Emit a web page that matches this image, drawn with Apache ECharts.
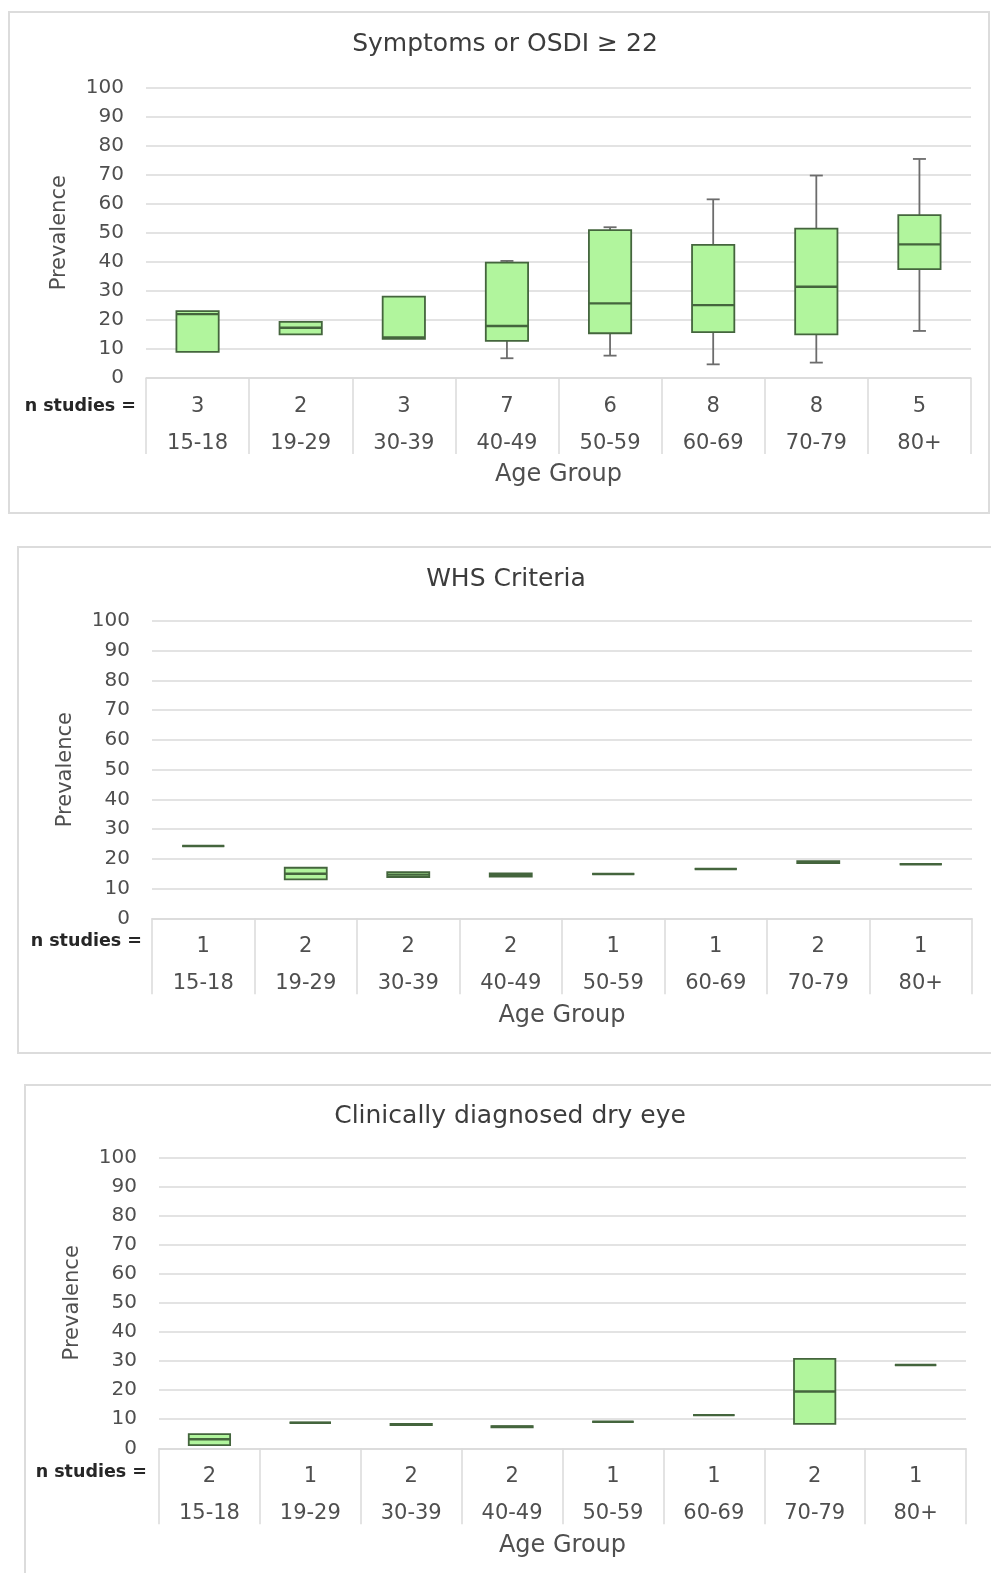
<!DOCTYPE html>
<html>
<head>
<meta charset="utf-8">
<script src="https://cdn.jsdelivr.net/npm/echarts@6/dist/echarts.min.js"></script>
<style>
  html, body { margin: 0; padding: 0; background: #ffffff; }
  #chart { width: 991px; height: 1573px; }
</style>
</head>
<body>
<div id="chart"></div>
<script>
// Age groups shared by the three panels
const ageGroups = ['15-18', '19-29', '30-39', '40-49', '50-59', '60-69', '70-79', '80+'];

// Panel titles
const panelTitles = ['Symptoms or OSDI \u2265 22', 'WHS Criteria', 'Clinically diagnosed dry eye'];

// Number of studies per age group
const osdiStudies = [3, 2, 3, 7, 6, 8, 8, 5];
const whsStudies = [1, 2, 2, 2, 1, 1, 2, 1];
const clinicalStudies = [2, 1, 2, 2, 1, 1, 2, 1];

// Prevalence (%) per age group: [min, Q1, median, Q3, max]
const osdiPrevalence = [
  [9.0, 9.0, 22.0, 23.0, 23.0],
  [15.0, 15.0, 17.3, 19.3, 19.3],
  [13.5, 13.5, 14.0, 28.0, 28.0],
  [6.8, 12.8, 17.9, 39.7, 40.3],
  [7.7, 15.4, 25.7, 50.9, 51.9],
  [4.7, 15.8, 25.1, 45.8, 61.5],
  [5.3, 15.0, 31.4, 51.4, 69.7],
  [16.2, 37.5, 46.0, 56.1, 75.4]
];
const whsPrevalence = [
  [24.3, 24.3, 24.3, 24.3, 24.3],
  [13.1, 13.1, 15.0, 17.0, 17.0],
  [13.9, 13.9, 14.7, 15.5, 15.5],
  [14.0, 14.0, 14.5, 15.1, 15.1],
  [14.9, 14.9, 14.9, 14.9, 14.9],
  [16.6, 16.6, 16.6, 16.6, 16.6],
  [18.6, 18.6, 18.9, 19.2, 19.2],
  [18.2, 18.2, 18.2, 18.2, 18.2]
];
const clinicalPrevalence = [
  [1.1, 1.1, 3.1, 4.9, 4.9],
  [8.8, 8.8, 8.8, 8.8, 8.8],
  [8.0, 8.0, 8.2, 8.4, 8.4],
  [7.2, 7.2, 7.4, 7.6, 7.6],
  [9.1, 9.1, 9.1, 9.1, 9.1],
  [11.4, 11.4, 11.4, 11.4, 11.4],
  [8.4, 8.4, 19.5, 30.7, 30.7],
  [28.6, 28.6, 28.6, 28.6, 28.6]
];

const FONT = 'DejaVu Sans';
const TEXT = '#4f4f4f';
const GRID_LINE = '#dadada';
const BOX_FILL = '#b1f59d';
const BOX_EDGE = '#44653d';
const WHISKER = '#6c6c6c';

const panels = [
  { studies: osdiStudies, values: osdiPrevalence, grid: { left: 146, right: 20, top: 87.5, height: 290.5 },
    titleX: 505, titleTop: 32, nLabel: [136, 406], frame: [9, 12, 980, 501] },
  { studies: whsStudies, values: whsPrevalence, grid: { left: 152, right: 19, top: 621, height: 297.3 },
    titleX: 506, titleTop: 567, nLabel: [142, 941], frame: [18, 547, 976, 506] },
  { studies: clinicalStudies, values: clinicalPrevalence, grid: { left: 159, right: 25, top: 1157.3, height: 291 },
    titleX: 510, titleTop: 1104, nLabel: [147, 1472], frame: [25, 1085, 970, 520] }
];

// Box with short-capped whiskers, positioned through the cartesian axes
function renderBox(params, api) {
  const idx = api.value(0);
  const lo = api.value(1), q1 = api.value(2), md = api.value(3), q3 = api.value(4), hi = api.value(5);
  const cx = api.coord([idx, md])[0];
  const yLo = api.coord([idx, lo])[1];
  const yQ1 = api.coord([idx, q1])[1];
  const yMd = api.coord([idx, md])[1];
  const yQ3 = api.coord([idx, q3])[1];
  const yHi = api.coord([idx, hi])[1];
  const bw = api.size([1, 0])[0] * 0.41;
  const half = bw / 2;
  const cap = 6.5;
  const wStyle = { stroke: WHISKER, lineWidth: 1.8 };
  const children = [];
  if (hi > q3) {
    children.push({ type: 'line', shape: { x1: cx, y1: yQ3, x2: cx, y2: yHi }, style: wStyle });
    children.push({ type: 'line', shape: { x1: cx - cap, y1: yHi, x2: cx + cap, y2: yHi }, style: wStyle });
  }
  if (lo < q1) {
    children.push({ type: 'line', shape: { x1: cx, y1: yQ1, x2: cx, y2: yLo }, style: wStyle });
    children.push({ type: 'line', shape: { x1: cx - cap, y1: yLo, x2: cx + cap, y2: yLo }, style: wStyle });
  }
  children.push({
    type: 'rect',
    shape: { x: cx - half, y: yQ3, width: bw, height: yQ1 - yQ3 },
    style: { fill: BOX_FILL, stroke: BOX_EDGE, lineWidth: 1.8 }
  });
  children.push({
    type: 'line',
    shape: { x1: cx - half, y1: yMd, x2: cx + half, y2: yMd },
    style: { stroke: BOX_EDGE, lineWidth: 2.4 }
  });
  return { type: 'group', children: children };
}

const option = {
  backgroundColor: '#ffffff',
  animation: false,
  title: panels.map((p, i) => ({
    text: panelTitles[i],
    left: p.titleX,
    top: p.titleTop,
    textAlign: 'center',
    padding: 0,
    textStyle: { fontFamily: FONT, fontSize: 25, fontWeight: 'normal', color: '#3c3c3c' }
  })),
  grid: panels.map(p => Object.assign({ containLabel: false }, p.grid)),
  xAxis: panels.map((p, i) => ({
    type: 'category',
    gridIndex: i,
    data: ageGroups,
    boundaryGap: true,
    name: 'Age Group',
    nameLocation: 'middle',
    nameGap: 85,
    nameTextStyle: { fontFamily: FONT, fontSize: 24, color: TEXT },
    axisLine: { show: true, lineStyle: { color: GRID_LINE, width: 1.5 } },
    axisTick: { show: true, interval: 0, length: 76, lineStyle: { color: GRID_LINE, width: 1.5 } },
    splitLine: { show: false },
    axisLabel: {
      interval: 0,
      margin: 10,
      formatter: (val, idx) => '{n|' + p.studies[idx] + '}\n{a|' + val + '}',
      rich: {
        n: { fontFamily: FONT, fontSize: 21, color: TEXT, lineHeight: 37, align: 'center' },
        a: { fontFamily: FONT, fontSize: 21, color: TEXT, lineHeight: 37, align: 'center' }
      }
    }
  })),
  yAxis: panels.map((p, i) => ({
    type: 'value',
    gridIndex: i,
    min: 0,
    max: 100,
    interval: 10,
    name: 'Prevalence',
    nameLocation: 'middle',
    nameRotate: 90,
    nameGap: 76,
    nameTextStyle: { fontFamily: FONT, fontSize: 21, color: TEXT },
    axisLine: { show: false },
    axisTick: { show: false },
    axisLabel: { margin: 22, fontFamily: FONT, fontSize: 20, color: TEXT },
    splitLine: { show: true, lineStyle: { color: GRID_LINE, width: 1.5 } }
  })),
  graphic: panels.flatMap(p => [
    {
      type: 'rect',
      silent: true,
      z: -10,
      shape: { x: p.frame[0], y: p.frame[1], width: p.frame[2], height: p.frame[3] },
      style: { fill: 'none', stroke: '#dcdcdc', lineWidth: 2 }
    },
    {
      type: 'text',
      silent: true,
      x: p.nLabel[0],
      y: p.nLabel[1],
      style: {
        text: 'n studies =',
        align: 'right',
        verticalAlign: 'middle',
        fontFamily: FONT,
        fontSize: 17.5,
        fontWeight: 'bold',
        fill: '#262626'
      }
    }
  ]),
  series: panels.map((p, i) => ({
    type: 'custom',
    xAxisIndex: i,
    yAxisIndex: i,
    renderItem: renderBox,
    encode: { x: 0, y: [1, 2, 3, 4, 5] },
    data: p.values.map((v, k) => [k].concat(v))
  }))
};

const chart = echarts.init(document.getElementById('chart'), null, { renderer: 'canvas' });
chart.setOption(option);
</script>
</body>
</html>
